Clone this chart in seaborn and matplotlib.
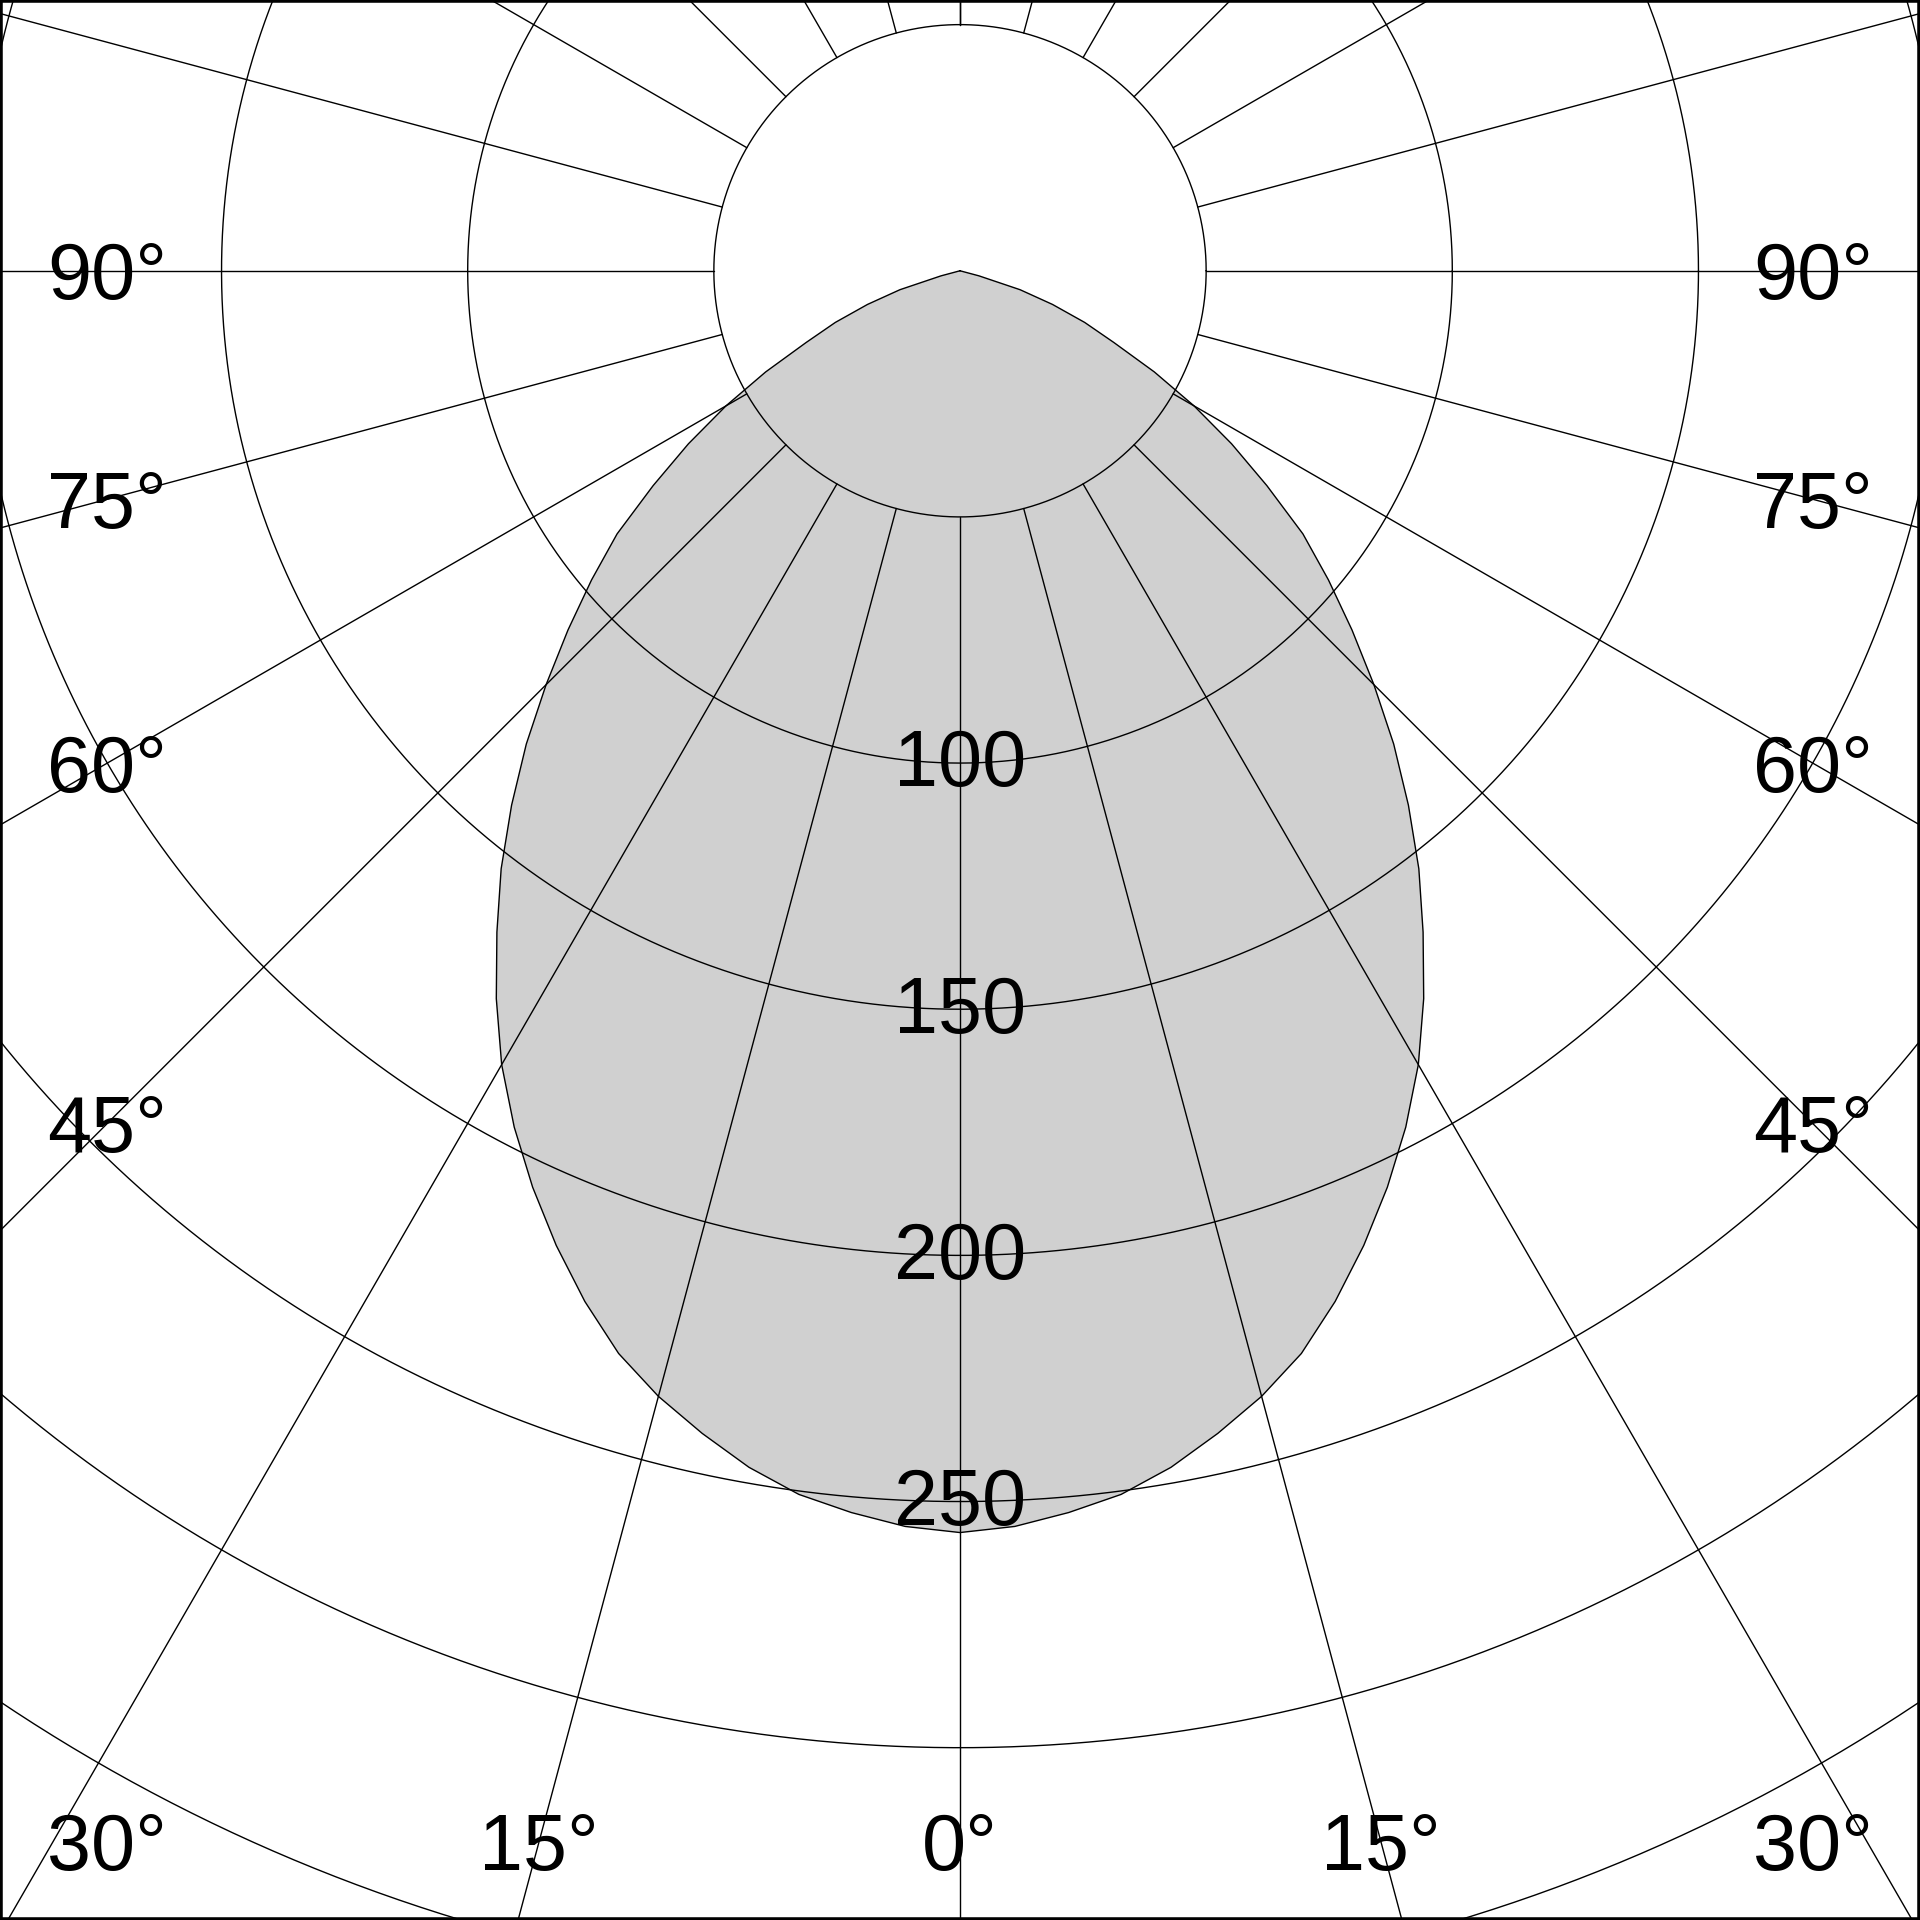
import numpy as np
import pandas as pd
import matplotlib
matplotlib.use("Agg")
import matplotlib.pyplot as plt
import seaborn as sns

# ---- data (luminous intensity, cd/klm) read every 2.5 degrees ----
angles = [0, 2.5, 5, 7.5, 10, 12.5, 15, 17.5, 20, 22.5, 25, 27.5, 30, 32.5, 35, 37.5,
          40, 42.5, 45, 47.5, 50, 52.5, 55, 57.5, 60, 62.5, 65, 67.5, 70, 72.5, 75,
          77.5, 80, 82.5, 85, 87.5, 90]
intensity = [256.3, 255.3, 253.2, 250.7, 246.8, 241.9, 236.7, 230.6, 222.8, 214.3, 205.4,
             196.1, 186.2, 175.3, 164.0, 153.1, 141.7, 130.4, 118.9, 108.0, 97.7, 87.8,
             76.1, 65.4, 54.9, 44.5, 34.5, 27.4, 20.0, 12.8, 4.0, 0, 0, 0, 0, 0, 0]

ring_values = [50, 100, 150, 200, 250, 300, 350, 400]
ring_labels = [100, 150, 200, 250]
spoke_angles = list(range(-180, 181, 15))
angle_labels = [90, 75, 60, 45, 30, 15, 0]

# ---- style ----
sns.set_theme(style="white")
plt.rcParams['font.family'] = ['Liberation Sans', 'DejaVu Sans']

fig = plt.figure(figsize=(19.2, 19.2), dpi=100)
ax = fig.add_axes([0, 0, 1, 1])

# full curve (mirror of the C0/C180 half)
th = np.array([-a for a in angles[::-1]] + angles[1:], dtype=float)
iv = np.array(intensity[::-1] + intensity[1:], dtype=float)
rad = np.deg2rad(th)
cx = iv * np.sin(rad)
cy = -iv * np.cos(rad)
curve = pd.DataFrame({"x": cx, "y": cy})

ax.fill(cx, cy, color="#d0d0d0", zorder=1, lw=0)
sns.lineplot(data=curve, x="x", y="y", sort=False, estimator=None,
             color="black", lw=1.0, ax=ax, zorder=3)

# grid circles
t = np.linspace(0, 2 * np.pi, 1441)
for r in ring_values:
    ax.plot(r * np.cos(t), r * np.sin(t), color="black", lw=1.0, zorder=2)

# spokes (start on the 50 ring)
for a in spoke_angles:
    ar = np.deg2rad(a)
    ax.plot([50 * np.sin(ar), 600 * np.sin(ar)], [-50 * np.cos(ar), -600 * np.cos(ar)],
            color="black", lw=1.0, zorder=2)

fs = 57
half_cap = 0.716 * fs * (100 / 72) / 4.927 / 2  # half digit height in data units

# radial labels
for v in ring_labels:
    ax.text(0, -v - half_cap + 1.0, str(v), ha="center", va="baseline", fontsize=fs,
            color="black", zorder=4)

# angle labels
XB, YB = 173.3, 319.0
for a in angle_labels:
    ar = np.deg2rad(a)
    if a >= 45:
        y = -XB / np.tan(ar) if a < 90 else 0.0
        xpos = XB
    else:
        y = -YB
        xpos = min(YB * np.tan(ar), XB)
    sides = [-1, 1] if a != 0 else [0]
    for s in sides:
        ax.text(s * xpos, y - half_cap, f"{a}°", ha="center", va="baseline", fontsize=fs,
                color="black", zorder=4)

ax.set_xlim(-195, 195)
ax.set_ylim(-335, 55)
ax.set_xticks([])
ax.set_yticks([])
ax.set_xlabel("")
ax.set_ylabel("")
for sp in ax.spines.values():
    sp.set_visible(True)
    sp.set_color("black")
    sp.set_linewidth(4)

fig.savefig("out.png", dpi=100, facecolor="white")
